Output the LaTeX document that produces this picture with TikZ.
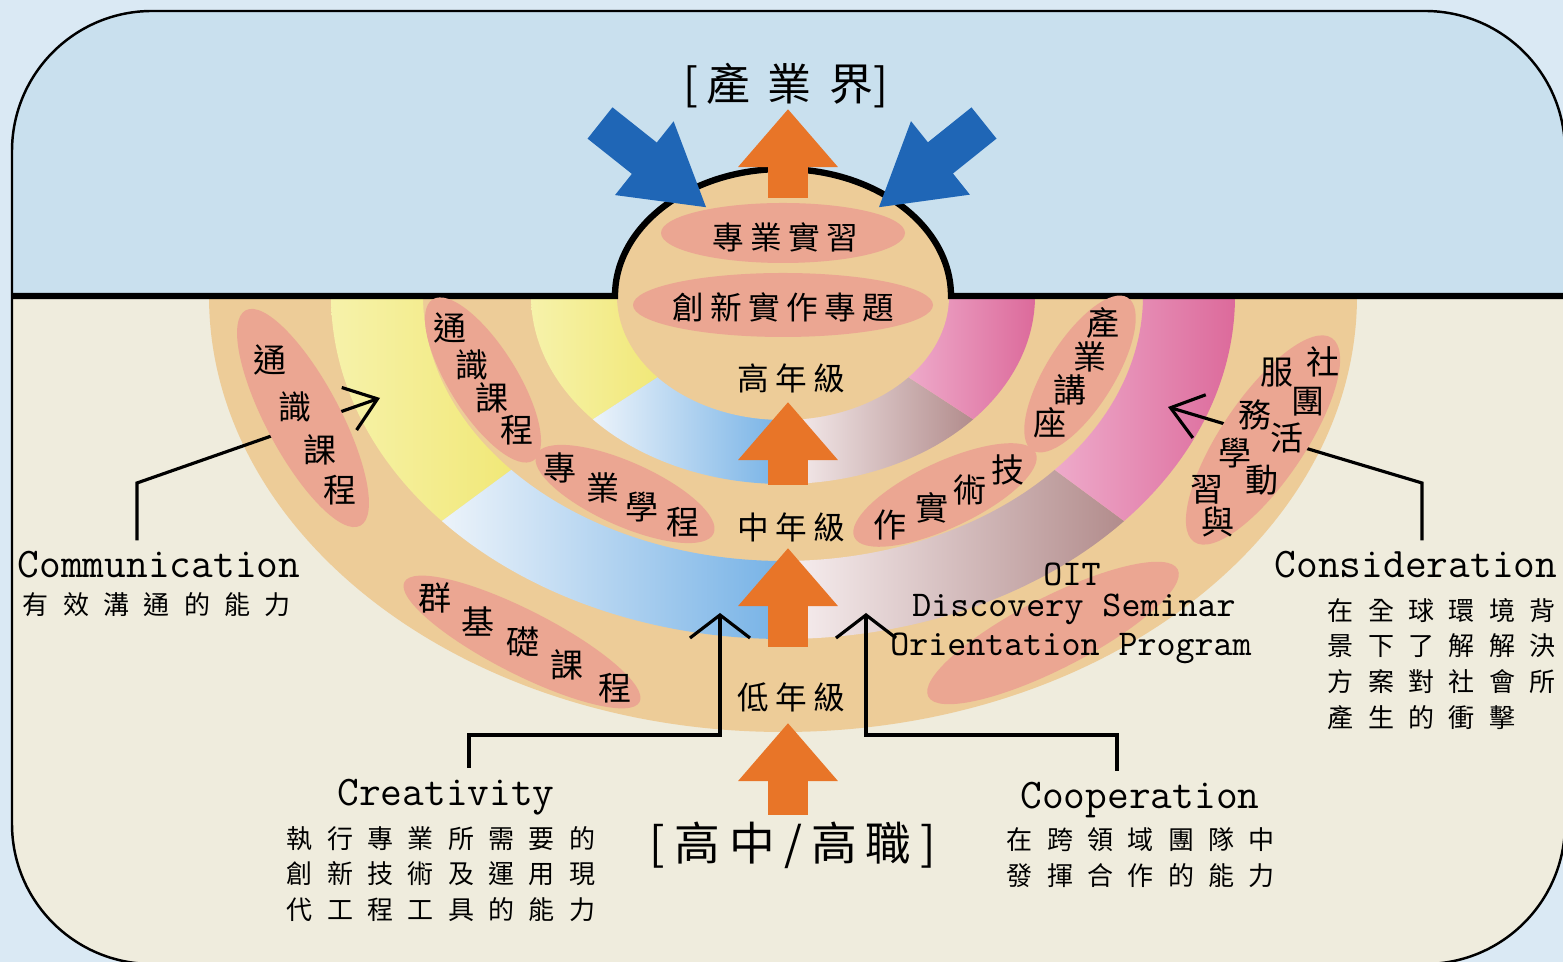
\documentclass[tikz,border=0pt]{standalone}
\usepackage{fontspec}
\newfontfamily\zh[LetterSpace=20]{Noto Sans CJK TC}
\newfontfamily\zhwide[LetterSpace=40]{Noto Sans CJK TC}
\newfontfamily\zhdesc[LetterSpace=55]{Noto Sans CJK TC}
\newfontfamily\zhchar{Noto Sans CJK TC}
\usetikzlibrary{arrows.meta,positioning,calc}

\definecolor{outside}{RGB}{218,233,244}
\definecolor{skyblue}{RGB}{201,224,238}
\definecolor{paper}{RGB}{239,236,221}
\definecolor{bandtan}{RGB}{237,204,152}
\definecolor{pillpink}{RGB}{235,166,146}
\definecolor{arrorange}{RGB}{232,117,40}
\definecolor{arrblue}{RGB}{31,102,182}
\definecolor{yellowlt}{RGB}{246,242,170}
\definecolor{yellowdk}{RGB}{241,232,120}
\definecolor{bluelt}{RGB}{236,243,250}
\definecolor{bluedk}{RGB}{118,178,230}
\definecolor{roselt}{RGB}{248,240,241}
\definecolor{rosedk}{RGB}{178,140,140}
\definecolor{pinklt}{RGB}{238,170,202}
\definecolor{pinkdk}{RGB}{220,106,155}

% annular sector of the rings: style, outer rx, ry, inner rx, ry, from, to
\newcommand{\bandpart}[7]{%
  \path[#1] ($(ctr)+(#6:#2 and #3)$) arc[start angle=#6, end angle=#7, x radius=#2, y radius=#3]
    -- ($(ctr)+(#7:#4 and #5)$) arc[start angle=#7, end angle=#6, x radius=#4, y radius=#5] -- cycle;}

\tikzset{
  pill/.style={fill=pillpink},
  yellowband/.style={shade, left color=yellowlt, right color=yellowdk},
  blueband/.style={shade, left color=bluelt, right color=bluedk},
  roseband/.style={shade, left color=roselt, right color=rosedk},
  pinkband/.style={shade, left color=pinklt, right color=pinkdk},
  grade/.style={font=\zh\fontsize{9pt}{11pt}\selectfont, inner sep=0pt},
  course/.style={font=\zhchar\fontsize{9.4pt}{11pt}\selectfont, inner sep=0pt},
  heading/.style={font=\ttfamily\fontsize{12pt}{14pt}\selectfont, inner sep=3pt},
  oitline/.style={font=\ttfamily\fontsize{10.3pt}{12pt}\selectfont, inner sep=0pt},
  desc/.style={font=\zhdesc\fontsize{7.4pt}{10.2pt}\selectfont, inner sep=0pt, align=left},
  levelup/.style={draw=arrorange, line width=0.4cm, -{Triangle[length=0.58cm, width=0.96cm]}},
  pushin/.style={draw=arrblue, line width=0.4cm, -{Triangle[length=0.8cm, width=0.88cm]}},
  skillline/.style={draw=black, line width=0.9pt, -{Straight Barb[length=0.23cm, width=0.6cm]}},
  skilltilt/.style={draw=black, line width=0.9pt, -{Straight Barb[length=0.3cm, width=0.45cm]}}
}

\begin{document}
\begin{tikzpicture}[x=0.01cm, y=-0.01cm]
  \useasboundingbox (0,0) rectangle (1563,962);
  \fill[outside] (0,0) rectangle (1563,962);
  \coordinate (ctr) at (783,296);
  \begin{scope}
    \clip[rounded corners=1.4cm] (12,11) rectangle (1565,964);
    \fill[skyblue] (12,11) rectangle (1565,296);
    \fill[paper] (12,296) rectangle (1565,964);

    % the three year rings
    \fill[bandtan] (ctr) ++(0:574 and 436) arc[start angle=0, end angle=180, x radius=574, y radius=436] -- cycle;
    \bandpart{yellowband}{452}{343}{360}{265}{139}{180}
    \bandpart{blueband}{452}{343}{360}{265}{90}{139}
    \bandpart{roseband}{452}{343}{360}{265}{41}{90}
    \bandpart{pinkband}{452}{343}{360}{265}{0}{41}
    \bandpart{yellowband}{252}{188}{165}{123}{139}{180}
    \bandpart{blueband}{252}{188}{165}{123}{90}{139}
    \bandpart{roseband}{252}{188}{165}{123}{41}{90}
    \bandpart{pinkband}{252}{188}{165}{123}{0}{41}
    \fill[bandtan] (ctr) ellipse [x radius=166, y radius=124];

    % horizon with the dome
    \draw[line width=1.8pt] (12,296) -- (615,296)
      arc[start angle=180, end angle=360, x radius=168, y radius=127] -- (1565,296);

    % Communication / Consideration
    \node[heading] (comm) at (159,565) {Communication};
    \node[heading] (cons) at (1416,565) {Consideration};
    \coordinate (commbend) at (137,483);
    \coordinate (commtip) at (380,398);
    \coordinate (consbend) at (1422,483);
    \coordinate (constip) at (1168,407);
    \draw[skilltilt] (comm.north -| commbend) -- (commbend) -- (commtip);
    \draw[skilltilt] (cons.north -| consbend) -- (consbend) -- (constip);

    % course ellipses
    \fill[pill] (783,233) ellipse [x radius=122, y radius=30];
    \fill[pill] (783,305) ellipse [x radius=150, y radius=32];
    \fill[pill, rotate around={-62:(303,418)}] (303,418) ellipse [x radius=122, y radius=37];
    \fill[pill, rotate around={-58:(483,380)}] (483,380) ellipse [x radius=95, y radius=34];
    \fill[pill, rotate around={-24:(625,494)}] (625,494) ellipse [x radius=97, y radius=32];
    \fill[pill, rotate around={25:(945,495)}] (945,495) ellipse [x radius=100, y radius=33];
    \fill[pill, rotate around={58:(1080,374)}] (1080,374) ellipse [x radius=90, y radius=34];
    \fill[pill, rotate around={56:(1263,440)}] (1263,440) ellipse [x radius=123, y radius=42];
    \fill[pill, rotate around={-27:(522,642)}] (522,642) ellipse [x radius=132, y radius=32];
    \fill[pill, rotate around={27:(1053,633)}] (1053,633) ellipse [x radius=140, y radius=36];

    % arrows
    \foreach \b/\t [count=\i] in {198/109, 485/402, 647/548, 815/723} {
      \coordinate (lvb\i) at (788,\b);
      \coordinate (lvt\i) at (788,\t);
      \draw[levelup] (lvb\i) -- (lvt\i);
    }
    \coordinate (pushl) at (600,123);
    \coordinate (pushlt) at (707,208);
    \coordinate (pushr) at (984,123);
    \coordinate (pushrt) at (878,208);
    \draw[pushin] (pushl) -- (pushlt);
    \draw[pushin] (pushr) -- (pushrt);

    % labels
    \node[font=\fontsize{12.5pt}{14pt}\selectfont, inner sep=0pt] (industry) at (786,86)
      {\zhchar[\,\zhwide 產業界\zhchar]};
    \node[font=\zh\fontsize{13pt}{15pt}\selectfont, inner sep=0pt] (school) at (793,845) {[高中/高職]};
    \node[grade] (intern) at (785,237) {專業實習};
    \node[grade] (capstone) at (783,307) {創新實作專題};
    \node[grade] (senior) at (791,378) {高年級};
    \node[grade] (middle) at (791,527) {中年級};
    \node[grade] (junior) at (791,697) {低年級};

    \begin{scope}[every node/.style={course}]
      \foreach \ch/\x/\y [count=\i] in {通/270/360, 識/295/407, 課/320/450, 程/340/490}
        \node (gena\i) at (\x,\y) {\ch};
      \foreach \ch/\x/\y [count=\i] in {通/450/328, 識/472/365, 課/492/398, 程/517/430}
        \node (genb\i) at (\x,\y) {\ch};
      \foreach \ch/\x/\y [count=\i] in {專/560/468, 業/603/488, 學/642/507, 程/683/522}
        \node (prog\i) at (\x,\y) {\ch};
      \foreach \ch/\x/\y [count=\i] in {技/1008/470, 術/970/490, 實/932/508, 作/890/525}
        \node (tech\i) at (\x,\y) {\ch};
      \foreach \ch/\x/\y [count=\i] in {產/1103/323, 業/1090/357, 講/1070/390, 座/1050/423}
        \node (lect\i) at (\x,\y) {\ch};
      \foreach \ch/\x/\y [count=\i] in {社/1323/362, 團/1308/402, 活/1287/438, 動/1262/480, 與/1218/522,
          服/1277/373, 務/1255/415, 學/1235/453, 習/1207/490}
        \node (club\i) at (\x,\y) {\ch};
      \foreach \ch/\x/\y [count=\i] in {群/435/598, 基/478/622, 礎/523/642, 課/567/665, 程/615/688}
        \node (base\i) at (\x,\y) {\ch};
    \end{scope}

    \node[oitline] (oit) at (1072,574) {OIT};
    \node[oitline] (dsem) at (1074,609) {Discovery Seminar};
    \node[oitline] (oprog) at (1071,648) {Orientation Program};

    \node[desc] (commzh) at (157,605) {有效溝通的能力};
    \node[desc, anchor=west] (conszh) at (1327,664) {在全球環境背\\景下了解解決\\方案對社會所\\產生的衝擊};

    % Creativity / Cooperation
    \node[heading] (crea) at (446,797) {Creativity};
    \node[heading] (coop) at (1140,800) {Cooperation};
    \node[desc] (creazh) at (441,874) {執行專業所需要的\\創新技術及運用現\\代工程工具的能力};
    \node[desc] (coopzh) at (1141,858) {在跨領域團隊中\\發揮合作的能力};
    \coordinate (creabend) at (469,735);
    \coordinate (creatip) at (720,613);
    \coordinate (coopbend) at (1117,735);
    \coordinate (cooptip) at (866,613);
    \draw[skillline] (crea.north -| creabend) -- (creabend) -| (creatip);
    \draw[skillline] (coop.north -| coopbend) -- (coopbend) -| (cooptip);
  \end{scope}
  \draw[line width=0.7pt, rounded corners=1.4cm] (12,11) rectangle (1565,964);
\end{tikzpicture}
\end{document}
